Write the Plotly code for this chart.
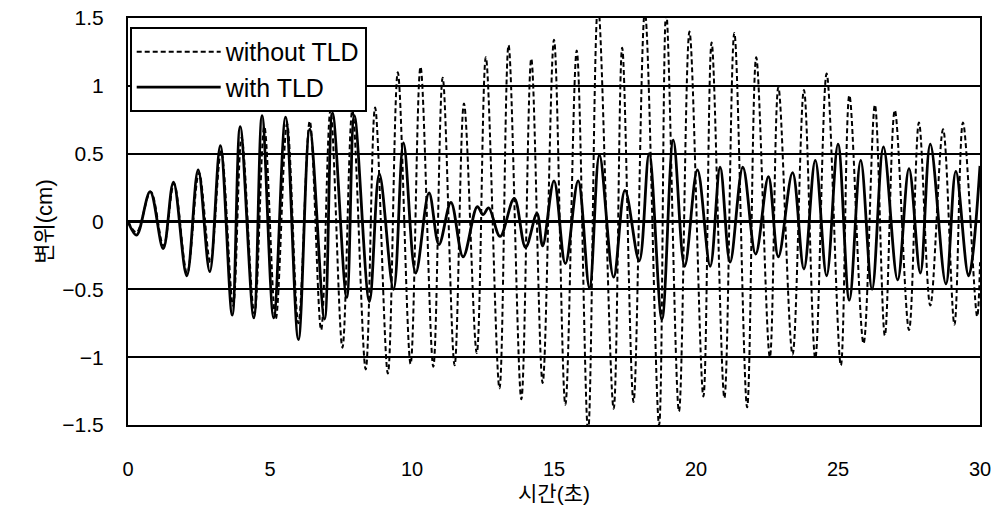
import plotly.graph_objects as go

# ---- data: peaks / troughs (time in s, displacement in cm) ----
t_without = [0.0, 0.3, 0.8, 1.25, 1.62, 2.08, 2.5, 2.9, 3.28, 3.7, 4.0, 4.45, 4.8, 5.2,
             5.6, 6.0, 6.4, 6.8, 7.13, 7.55, 7.9, 8.37, 8.7, 9.15, 9.5, 9.95, 10.3,
             10.75, 11.08, 11.5, 11.83, 12.28, 12.6, 13.08, 13.4, 13.85, 14.2, 14.6,
             15.0, 15.4, 15.8, 16.2, 16.55, 17.1, 17.4, 17.8, 18.2, 18.7, 18.95, 19.4,
             19.77, 20.26, 20.55, 21.0, 21.35, 21.8, 22.12, 22.6, 22.9, 23.4, 23.8,
             24.2, 24.6, 25.1, 25.4, 25.9, 26.3, 26.65, 27.0, 27.5, 27.85, 28.25, 28.7,
             29.1, 29.4, 29.9, 30.0]
y_without = [0.0, -0.08, 0.22, -0.18, 0.28, -0.38, 0.36, -0.3, 0.52, -0.62, 0.62, -0.68,
             0.7, -0.72, 0.72, -0.75, 0.74, -0.8, 0.82, -0.93, 0.82, -1.09, 0.84, -1.12,
             1.1, -1.05, 1.14, -1.07, 1.06, -1.06, 0.87, -0.97, 1.21, -1.23, 1.3, -1.31,
             1.2, -1.19, 1.34, -1.35, 1.26, -1.55, 1.6, -1.38, 1.28, -1.33, 1.55, -1.5,
             1.55, -1.4, 1.4, -1.29, 1.32, -1.3, 1.39, -1.37, 1.21, -1.0, 0.99, -0.98,
             0.97, -1.01, 1.09, -1.06, 0.93, -0.9, 0.86, -0.84, 0.82, -0.8, 0.73, -0.62,
             0.68, -0.76, 0.73, -0.7, -0.3]

t_with = [0.0, 0.3, 0.78, 1.24, 1.6, 2.07, 2.47, 2.88, 3.25, 3.67, 3.95, 4.43, 4.72,
          5.13, 5.55, 6.0, 6.4, 6.92, 7.2, 7.7, 7.97, 8.5, 8.85, 9.35, 9.7, 10.13, 10.6,
          10.95, 11.37, 11.8, 12.3, 12.5, 12.7, 13.1, 13.6, 14.0, 14.4, 14.6, 15.0,
          15.4, 15.85, 16.25, 16.6, 17.1, 17.5, 18.0, 18.35, 18.8, 19.2, 19.6, 20.05,
          20.5, 20.85, 21.2, 21.65, 22.1, 22.55, 22.9, 23.4, 23.8, 24.2, 24.6, 25.0,
          25.4, 25.8, 26.2, 26.6, 27.1, 27.5, 27.9, 28.25, 28.8, 29.15, 29.6, 30.0]
y_with = [0.0, -0.1, 0.22, -0.2, 0.29, -0.4, 0.38, -0.37, 0.56, -0.69, 0.7, -0.71, 0.78,
          -0.71, 0.77, -0.87, 0.68, -0.72, 0.8, -0.56, 0.78, -0.59, 0.35, -0.5, 0.58,
          -0.38, 0.21, -0.17, 0.14, -0.26, 0.11, 0.05, 0.1, -0.11, 0.17, -0.19, 0.06,
          -0.18, 0.3, -0.31, 0.3, -0.49, 0.49, -0.41, 0.23, -0.29, 0.5, -0.72, 0.6,
          -0.33, 0.38, -0.33, 0.4, -0.3, 0.4, -0.24, 0.33, -0.26, 0.36, -0.35, 0.45,
          -0.4, 0.57, -0.58, 0.45, -0.5, 0.55, -0.43, 0.39, -0.38, 0.57, -0.46, 0.37,
          -0.4, 0.41]

x_ticks = [0, 5, 10, 15, 20, 25, 30]
y_ticks = [-1.5, -1, -0.5, 0, 0.5, 1, 1.5]
y_tick_text = ["\u22121.5", "\u22121", "\u22120.5", "0", "0.5", "1", "1.5"]

FONT = "Liberation Sans, Arial, Noto Sans CJK KR, sans-serif"

fig = go.Figure()
fig.add_trace(go.Scatter(
    x=t_without, y=y_without, mode="lines", name="without TLD", legendgroup="a",
    line=dict(color="black", width=2, dash="5px,3px", shape="spline", smoothing=1.0),
))
fig.add_trace(go.Scatter(
    x=t_with, y=y_with, mode="lines", name="with TLD", legendgroup="b",
    line=dict(color="black", width=2.8, shape="spline", smoothing=1.0),
))

fig.update_layout(
    width=994, height=522,
    margin=dict(l=128, r=14, t=18, b=97, autoexpand=False),
    paper_bgcolor="white", plot_bgcolor="white",
    font=dict(family=FONT, color="black", size=20),
    showlegend=True,
    legend=dict(
        x=0.002, y=0.978, xanchor="left", yanchor="top",
        bgcolor="white", bordercolor="black", borderwidth=2,
        font=dict(size=25, family=FONT, color="black"),
        itemwidth=84, tracegroupgap=0,
    ),
    xaxis=dict(
        range=[0, 30], tickvals=x_ticks, showgrid=False, zeroline=False,
        showline=True, linecolor="black", linewidth=2, mirror=True,
        ticks="", ticklabelstandoff=25, automargin=False,
        tickfont=dict(size=20, family=FONT),
        title=dict(text="시간(초)", font=dict(size=21, family=FONT), standoff=7),
    ),
    yaxis=dict(
        range=[-1.5, 1.5], tickvals=y_ticks, ticktext=y_tick_text,
        showgrid=True, gridcolor="black", gridwidth=1.5,
        zeroline=True, zerolinecolor="black", zerolinewidth=2.5,
        showline=True, linecolor="black", linewidth=2, mirror=True,
        ticks="", ticklabelstandoff=18, automargin=False,
        tickfont=dict(size=21, family=FONT),
        title=dict(text="변위(cm)", font=dict(size=22, family=FONT), standoff=4),
    ),
)

fig.write_html("out.html")
